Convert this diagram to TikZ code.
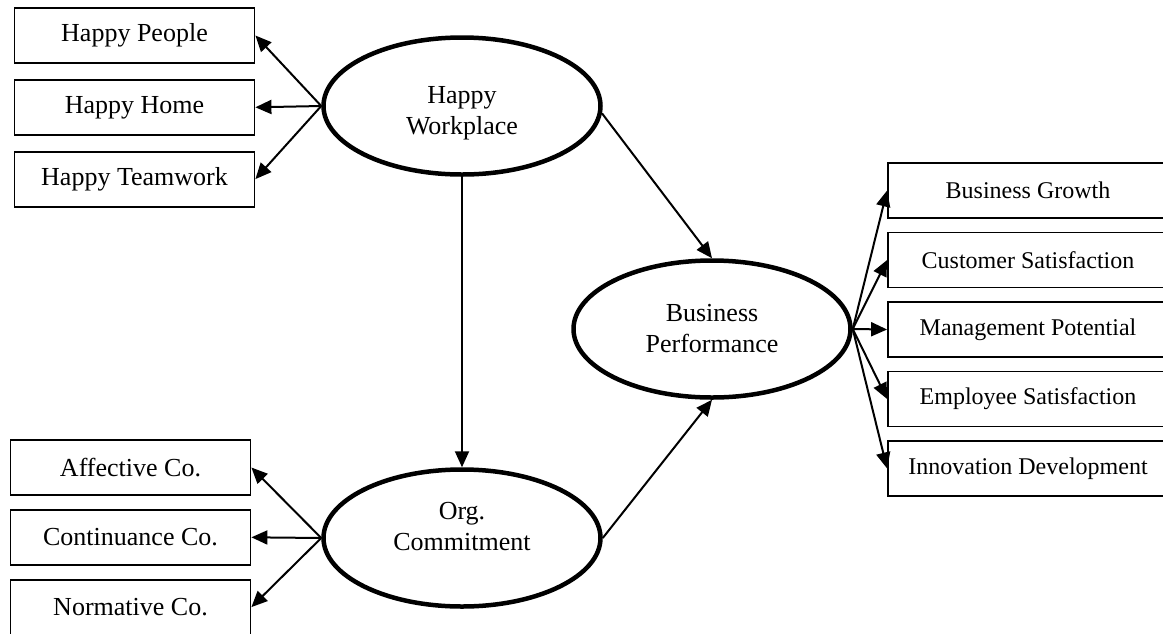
\documentclass[tikz,border=0pt]{standalone}
\usepackage{fontspec}
\setmainfont{Liberation Serif}
\usepackage{tikz}
\usetikzlibrary{positioning, shapes.geometric, arrows.meta}
\tikzstyle{latent} = [ellipse, draw=black, line width=4.5pt, minimum width=277pt, minimum height=137pt, inner sep=0pt, align=center, font=\fontsize{26}{31}\selectfont]
\tikzstyle{leftitem} = [rectangle, draw=black, line width=1.8pt, minimum width=240pt, minimum height=55pt, inner sep=0pt, text centered, font=\fontsize{26}{31}\selectfont]
\tikzstyle{rightitem} = [rectangle, draw=black, line width=1.8pt, minimum width=280pt, minimum height=55pt, inner sep=0pt, text centered, font=\fontsize{24}{29}\selectfont]
\tikzstyle{arrow} = [line width=2pt,->,>={Triangle[length=16pt,width=14pt]}]

\begin{document}
\begin{tikzpicture}[x=1pt, y=1pt, node distance=15pt]
  		\useasboundingbox (0,-633) rectangle (1163,0);
  		%latent variables
  		\node (hw) [latent, text height=63pt] at (462,-106) {Happy\\Workplace};
  		\node (oc) [latent, text depth=23pt] at (462,-538) {Org.\\Commitment};
  		\node (bp) [latent] at (712,-329) {Business\\Performance};
  		
  		%indicators of happy workplace
  		\node (hp) [leftitem] at (134.5,-35.5) {Happy People};
  		\node (hh) [leftitem, below=of hp] {Happy Home};
  		\node (ht) [leftitem, below=of hh] {Happy Teamwork};
  		
  		%indicators of commitment
  		\node (af) [leftitem] at (130.5,-467.5) {Affective Co.};
  		\node (cc) [leftitem, below=13pt of af] {Continuance Co.};
  		\node (nc) [leftitem, below=13pt of cc] {Normative Co.};
  		
  		%indicators of business performance
  		\node (bg) [rightitem] at (1028,-190.5) {Business Growth};
  		\node (cs) [rightitem, below=12.7pt of bg] {Customer Satisfaction};
  		\node (mp) [rightitem, below=12.7pt of cs] {Management Potential};
  		\node (es) [rightitem, below=12.7pt of mp] {Employee Satisfaction};
  		\node (id) [rightitem, below=12.7pt of es] {Innovation Development};
  		
  		%paths
  		\draw [arrow](hw) -- (oc);
  		\draw [arrow](hw.-3) -- (bp.north);
  		\draw [arrow](oc.east) -- (bp.south);
  		
  		%loadings
  		\draw [arrow](hw.west) -- (hp.east);
  		\draw [arrow](hw.west) -- (hh.east);
  		\draw [arrow](hw.west) -- (ht.east);
  		\draw [arrow](oc.west) -- (af.east);
  		\draw [arrow](oc.west) -- (cc.east);
  		\draw [arrow](oc.west) -- (nc.east);
  		\draw [arrow](bp.east) -- (bg.west);
  		\draw [arrow](bp.east) -- (cs.west);
  		\draw [arrow](bp.east) -- (mp.west);
  		\draw [arrow](bp.east) -- (es.west);
  		\draw [arrow](bp.east) -- (id.west);
  	\end{tikzpicture}
\end{document}
